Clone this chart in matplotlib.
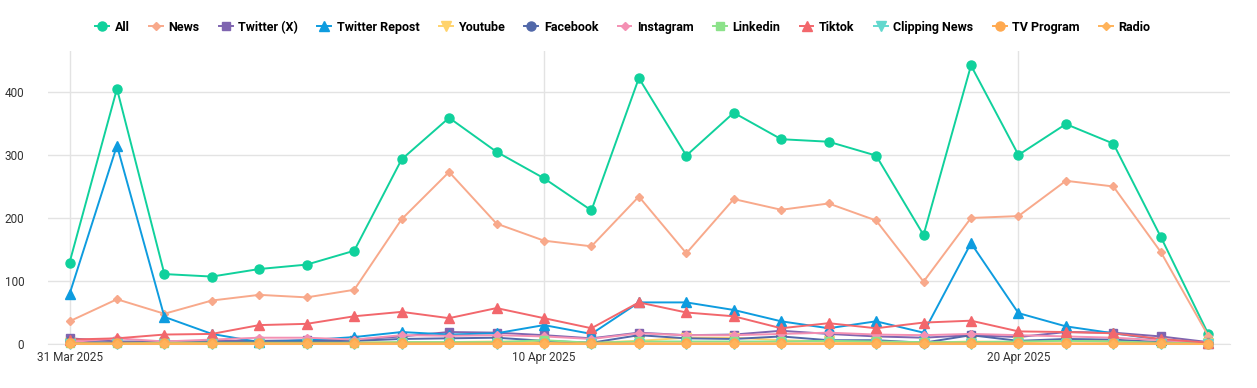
import numpy as np
import pandas as pd
import matplotlib
matplotlib.use("Agg")
import matplotlib.pyplot as plt
import matplotlib.dates as mdates

plt.rcParams['font.family'] = ['Roboto', 'DejaVu Sans']

# daily counts, 31 Mar 2025 - 24 Apr 2025
dates = pd.date_range("2025-03-31", "2025-04-24", freq="D")

all_ = [129, 405, 111, 107, 119, 126, 148, 293, 359, 305, 263, 212, 422,
        299, 367, 325, 321, 299, 173, 442, 300, 349, 318, 170, 16]
news = [36, 71, 48, 69, 78, 74, 86, 198, 273, 191, 164, 155, 234,
        144, 230, 213, 223, 196, 99, 200, 203, 259, 250, 146, 13]
twitter_x = [9, 4, 4, 5, 5, 6, 7, 12, 19, 18, 14, 9, 18,
             14, 15, 21, 16, 12, 10, 14, 11, 19, 18, 12, 3]
twitter_repost = [79, 315, 43, 16, 3, 6, 11, 19, 15, 17, 30, 16, 66,
                  66, 54, 36, 25, 36, 18, 160, 49, 28, 17, 7, 2]
youtube = [2, 2, 2, 2, 2, 2, 2, 3, 3, 4, 3, 2, 5,
           10, 10, 6, 4, 3, 2, 4, 3, 6, 4, 2, 1]
facebook = [4, 2, 3, 3, 4, 4, 5, 8, 9, 10, 5, 2, 14,
            9, 8, 12, 6, 6, 2, 14, 5, 8, 7, 3, 1]
instagram = [3, 9, 4, 7, 10, 10, 7, 14, 13, 14, 12, 8, 17,
             14, 14, 16, 18, 15, 14, 16, 14, 12, 10, 6, 2]
linkedin = [1, 1, 2, 2, 2, 2, 2, 3, 3, 3, 6, 2, 4,
            4, 4, 4, 5, 4, 3, 3, 4, 5, 4, 2, 1]
tiktok = [7, 9, 15, 16, 30, 32, 44, 51, 41, 57, 41, 25, 66,
          50, 44, 25, 33, 25, 34, 37, 20, 19, 17, 8, 2]
clipping = [0] * 25
tv_program = [1, 1, 1, 1, 1, 1, 1, 1, 1, 1, 1, 1, 1,
              1, 1, 1, 1, 1, 1, 1, 1, 1, 1, 1, 0]
radio = [0] * 25

series = [
    ("All", all_, "#10d19c", "o", 6.5),
    ("News", news, "#f8a98b", "D", 4.5),
    ("Twitter (X)", twitter_x, "#7f65b0", "s", 5.5),
    ("Twitter Repost", twitter_repost, "#0e9cdf", "^", 6.5),
    ("Youtube", youtube, "#ffd36b", "v", 6.5),
    ("Facebook", facebook, "#5168a9", "o", 6.5),
    ("Instagram", instagram, "#f490b3", "D", 4.5),
    ("Linkedin", linkedin, "#8ce28a", "s", 5.5),
    ("Tiktok", tiktok, "#f2676c", "^", 6.5),
    ("Clipping News", clipping, "#62d8ce", "v", 6.5),
    ("TV Program", tv_program, "#ffa94f", "o", 6.5),
    ("Radio", radio, "#ffb35a", "D", 4.5),
]

fig = plt.figure(figsize=(12.57, 3.88), dpi=100)
ax = fig.add_axes([0.038, 0.1134, 0.9405, 0.7552])

for name, vals, color, marker, ms in series:
    ax.plot(dates, vals, color=color, lw=1.4, marker=marker, ms=ms,
            label=name, clip_on=False, zorder=3)

ax.set_ylim(0, 465)
ax.set_yticks([0, 100, 200, 300, 400])
ax.set_xlim(dates[0] - pd.Timedelta(hours=11), dates[-1] + pd.Timedelta(hours=11))
ax.set_xticks([pd.Timestamp("2025-03-31"), pd.Timestamp("2025-04-10"),
               pd.Timestamp("2025-04-20")])
ax.xaxis.set_major_formatter(mdates.DateFormatter("%-d %b %Y"))

ax.grid(True, color="#e3e3e3", lw=1)
ax.set_axisbelow(True)
for s in ["top", "right", "left"]:
    ax.spines[s].set_visible(False)
ax.spines["bottom"].set_color("#e3e3e3")
ax.tick_params(axis="both", length=0, labelsize=8.5, colors="#333333")
ax.tick_params(axis="y", pad=17)
ax.tick_params(axis="x", pad=5)

leg = fig.legend(loc="center", bbox_to_anchor=(0.4955, 0.93), ncol=12,
                 frameon=False, handlelength=1.1, handletextpad=0.45,
                 columnspacing=1.55, prop={"size": 9, "weight": "bold"})

fig.savefig("out.png", dpi=100)
